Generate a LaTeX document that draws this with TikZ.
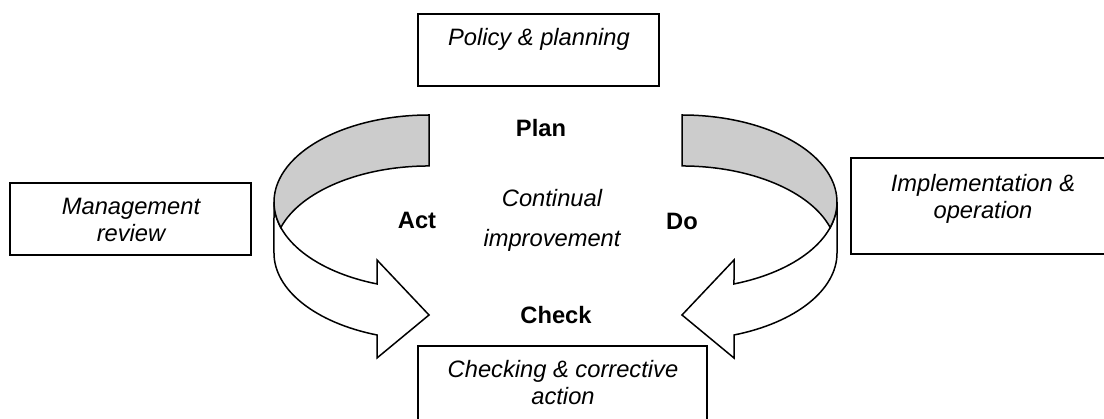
\documentclass[tikz,border=0pt]{standalone}
\usepackage{fontspec}
\setmainfont{Liberation Sans}
\begin{document}
\begin{tikzpicture}[x=1pt,y=1pt,
  box/.style={draw, line width=1.5pt, inner sep=0pt},
  lbl/.style={font=\fontsize{23.7}{27}\selectfont\itshape, align=center, anchor=base, inner sep=0pt},
  pdca/.style={font=\fontsize{23.7}{27}\selectfont\bfseries, anchor=base, inner sep=0pt},
  band/.style={draw, line width=1.5pt, line join=miter},
  shade/.style={band, fill=gray!40},
  face/.style={band, fill=white},
  er/.style={x radius=155pt, y radius=87pt}
]
\clip (0,0) rectangle (1104,419);
\fill[white] (0,0) rectangle (1104,419);

% boxes
\node[box, minimum width=241pt, minimum height=72pt] (policy) at (538.5,369) {};
\node[box, minimum width=241pt, minimum height=72pt] (mgmt) at (130.5,200) {};
\node[box, minimum width=264pt, minimum height=96pt] (impl) at (983,213) {};
\node[box, minimum width=289pt, minimum height=96pt] (chk) at (562.5,25) {};

% box texts (base = baseline of last line)
\node[lbl] (policyt) at (539,373) {Policy \& planning};
\node[lbl] (mgmtt) at (131,177) {Management\\review};
\node[lbl] (implt) at (983,200) {Implementation \&\\operation};
\node[lbl] (chkt) at (563,14) {Checking \& corrective\\action};

% left curved arrow (Act)
\path[face] (274,217) arc[start angle=180, end angle=250.4, er] -- (377,159) -- (429,104) -- (377,61) -- (377,84) arc[start angle=250.4, end angle=180, er] -- cycle;
\path[shade] (429,304) arc[start angle=90, end angle=197.04, er] arc[start angle=162.96, end angle=90, er] -- cycle;

% right curved arrow (Do)
\path[face] (837,217) arc[start angle=0, end angle=-70.4, er] -- (734,159) -- (682,104) -- (734,61) -- (734,84) arc[start angle=-70.4, end angle=0, er] -- cycle;
\path[shade] (682,304) arc[start angle=90, end angle=-17.04, er] arc[start angle=17.04, end angle=90, er] -- cycle;

% cycle labels
\node[pdca] (plan) at (541,282) {Plan};
\node[pdca] (act) at (417,190) {Act};
\node[pdca] (do) at (682,189) {Do};
\node[pdca] (check) at (556,95) {Check};
\node[lbl] (cont) at (552,212) {Continual};
\node[lbl] (impr) at (552,172) {improvement};
\end{tikzpicture}
\end{document}
